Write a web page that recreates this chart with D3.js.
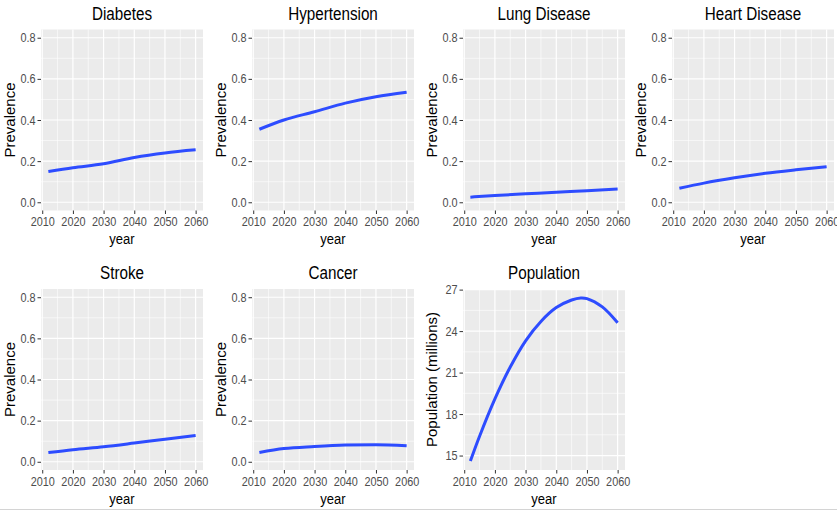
<!DOCTYPE html>
<html>
<head>
<meta charset="utf-8">
<script src="https://cdn.jsdelivr.net/npm/d3@7"></script>
<style>
body { margin: 0; background: #fff; }
svg text { font-family: "Liberation Sans", Arial, sans-serif; }
.sq { transform: scaleX(0.87); transform-box: fill-box; transform-origin: center; }
.sqr { transform: scaleX(0.87); transform-box: fill-box; transform-origin: right center; }
</style>
</head>
<body>
<svg></svg>
<script>
// values
const years = [2012, 2020, 2030, 2040, 2050, 2060];
const diabetes = [0.150, 0.168, 0.187, 0.218, 0.240, 0.255];
const hypertension = [0.355, 0.400, 0.440, 0.482, 0.513, 0.535];
const lungDisease = [0.025, 0.033, 0.041, 0.049, 0.056, 0.064];
const heartDisease = [0.068, 0.093, 0.119, 0.141, 0.158, 0.173];
const stroke = [0.045, 0.059, 0.073, 0.091, 0.110, 0.128];
const cancer = [0.045, 0.064, 0.074, 0.081, 0.083, 0.078];

const popYears = [2012, 2015, 2020, 2025, 2030, 2035, 2040, 2045, 2048, 2050, 2055, 2060];
const population = [14.6, 16.4, 19.1, 21.4, 23.3, 24.7, 25.7, 26.25, 26.4, 26.35, 25.75, 24.6];

const xTicks = [2010, 2020, 2030, 2040, 2050, 2060];
const xMinor = [2015, 2025, 2035, 2045, 2055];
const prevTicks = [0, 0.2, 0.4, 0.6, 0.8];
const prevMinor = [0.1, 0.3, 0.5, 0.7];
const popTicks = [15, 18, 21, 24, 27];
const popMinor = [16.5, 19.5, 22.5, 25.5];

const panels = [
  { title: "Diabetes", xs: years, ys: diabetes },
  { title: "Hypertension", xs: years, ys: hypertension },
  { title: "Lung Disease", xs: years, ys: lungDisease },
  { title: "Heart Disease", xs: years, ys: heartDisease },
  { title: "Stroke", xs: years, ys: stroke },
  { title: "Cancer", xs: years, ys: cancer },
  { title: "Population", xs: popYears, ys: population, pop: true }
];

const svgWidth = 837, svgHeight = 513;
const colLeft = [41, 252, 463, 672];
const rowTop = [29.5, 289];
const pw = 162, ph = 181;

const svg = d3.select("svg")
    .attr("width", svgWidth)
    .attr("height", svgHeight);

// ggplot style 5% expansion
function expand(lo, hi) {
  const pad = (hi - lo) * 0.05;
  return [lo - pad, hi + pad];
}

panels.forEach(function(p, i) {
  const col = i % 4, row = Math.floor(i / 4);
  const g = svg.append("g")
      .attr("transform", "translate(" + colLeft[col] + "," + rowTop[row] + ")");

  const x = d3.scaleLinear().domain(expand(2012, 2060)).range([0, pw]);
  const y = d3.scaleLinear()
      .domain(p.pop ? expand(14.55, 26.45) : expand(0, 0.8))
      .range([ph, 0]);

  const yt = p.pop ? popTicks : prevTicks;
  const ym = p.pop ? popMinor : prevMinor;

  g.append("rect")
      .attr("width", pw).attr("height", ph)
      .attr("fill", "#ebebeb");

  // minor grid
  g.selectAll(".vminor").data(xMinor).enter().append("line")
      .attr("x1", d => x(d)).attr("x2", d => x(d))
      .attr("y1", 0).attr("y2", ph)
      .attr("stroke", "#fff").attr("stroke-width", 0.6);
  g.selectAll(".hminor").data(ym).enter().append("line")
      .attr("y1", d => y(d)).attr("y2", d => y(d))
      .attr("x1", 0).attr("x2", pw)
      .attr("stroke", "#fff").attr("stroke-width", 0.6);

  // major grid
  g.selectAll(".vmajor").data(xTicks).enter().append("line")
      .attr("x1", d => x(d)).attr("x2", d => x(d))
      .attr("y1", 0).attr("y2", ph)
      .attr("stroke", "#fff").attr("stroke-width", 1.2);
  g.selectAll(".hmajor").data(yt).enter().append("line")
      .attr("y1", d => y(d)).attr("y2", d => y(d))
      .attr("x1", 0).attr("x2", pw)
      .attr("stroke", "#fff").attr("stroke-width", 1.2);

  const xAxis = g.append("g")
      .attr("transform", "translate(0," + ph + ")")
      .call(d3.axisBottom(x).tickValues(xTicks).tickSize(3.5).tickPadding(3.5)
          .tickFormat(d3.format("d")));
  const yAxis = g.append("g")
      .call(d3.axisLeft(y).tickValues(yt).tickSize(3.5).tickPadding(2)
          .tickFormat(p.pop ? d3.format("d") : d3.format(".1f")));

  [xAxis, yAxis].forEach(function(a) {
    a.select(".domain").remove();
    a.selectAll("line").attr("stroke", "#333").attr("stroke-width", 1);
    a.selectAll("text")
        .attr("fill", "#4d4d4d")
        .style("font-size", "12.5px");
  });
  xAxis.selectAll("text").attr("class", "sq");
  yAxis.selectAll("text").attr("class", "sqr");

  const line = d3.line()
      .x((d, k) => x(p.xs[k]))
      .y(d => y(d))
      .curve(p.pop ? d3.curveCatmullRom : d3.curveMonotoneX);

  g.append("path")
      .datum(p.ys)
      .attr("fill", "none")
      .attr("stroke", "#2d4cff")
      .attr("stroke-width", 3)
      .attr("d", line);

  g.append("text")
      .attr("class", "sq")
      .attr("x", pw / 2)
      .attr("y", -10)
      .attr("text-anchor", "middle")
      .attr("fill", "#000")
      .style("font-size", "17.5px")
      .text(p.title);

  g.append("text")
      .attr("class", "sq")
      .attr("x", pw / 2)
      .attr("y", ph + 34)
      .attr("text-anchor", "middle")
      .attr("fill", "#000")
      .style("font-size", "15px")
      .text("year");

  g.append("text")
      .attr("transform", "translate(-26," + (ph / 2) + ") rotate(-90)")
      .attr("text-anchor", "middle")
      .attr("fill", "#000")
      .style("font-size", "15px")
      .text(p.pop ? "Population (millions)" : "Prevalence");
});

// thin rule along the bottom edge of the picture
svg.append("line")
    .attr("x1", 0).attr("x2", svgWidth)
    .attr("y1", 509.5).attr("y2", 509.5)
    .attr("stroke", "#d4d4d4")
    .attr("stroke-width", 1);
</script>
</body>
</html>
